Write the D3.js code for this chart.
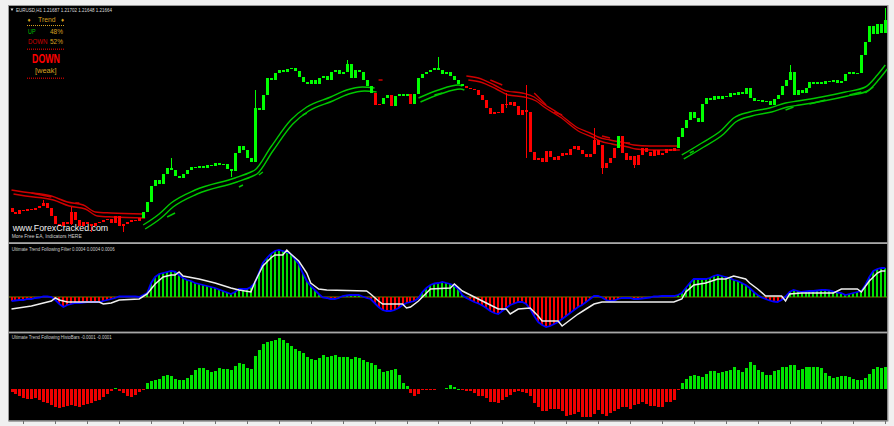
<!DOCTYPE html>
<html><head><meta charset="utf-8">
<script src="https://cdn.jsdelivr.net/npm/d3@7"></script>
<style>
html,body{margin:0;padding:0;background:#f0f0f0;}
svg{display:block;}
text{font-family:"Liberation Sans",Arial,sans-serif;}
</style></head><body>
<svg id="c" width="894" height="426"></svg>
<script>
// ---------------- DATA ----------------
const symbolTitle = "EURUSD,H1  1.21687 1.21702 1.21648 1.21664";
const filterTitle = "Ultimate Trend Following Filter 0.0004 0.0004 0.0006";
const histoTitle = "Ultimate Trend Following HistoBars -0.0001 -0.0001";
const trendPct = [["UP", "48%"], ["DOWN", "52%"]];
const trendState = ["DOWN", "[weak]"];

const open0 = 1.1979;
const closes = [
 1.1975,1.1973,1.1977,1.1976,1.1978,1.1977,1.1979,1.1981,1.1984,1.1979,
 1.1971,1.1963,1.1961,1.1965,1.1963,1.1975,1.1967,1.1961,1.1965,1.1963,
 1.1961,1.1964,1.1965,1.1967,1.1968,1.1964,1.1971,1.1961,1.1963,1.1965,
 1.1967,1.1966,1.1969,1.1975,1.1985,1.2001,1.2007,1.2003,1.2013,1.2019,
 1.2017,1.2011,1.2009,1.2013,1.2017,1.2020,1.2019,1.2021,1.2019,1.2022,
 1.2021,1.2024,1.2022,1.2023,1.2018,1.2016,1.2034,1.2041,1.2037,1.2029,
 1.2025,1.2079,1.2077,1.2092,1.2109,1.2107,1.2114,1.2117,1.2115,1.2118,
 1.2119,1.2116,1.2110,1.2105,1.2103,1.2107,1.2103,1.2109,1.2111,1.2107,
 1.2115,1.2117,1.2113,1.2115,1.2123,1.2109,1.2117,1.2115,1.2107,1.2101,
 1.2094,1.2082,1.2083,1.2089,1.2092,1.2081,1.2091,1.2093,1.2091,1.2093,
 1.2083,1.2093,1.2109,1.2113,1.2115,1.2117,1.2119,1.2117,1.2113,1.2115,
 1.2111,1.2107,1.2103,1.2101,1.2099,1.2098,1.2097,1.2092,1.2087,1.2079,
 1.2073,1.2075,1.2074,1.2083,1.2082,1.2085,1.2081,1.2072,1.2077,1.2075,
 1.2035,1.2027,1.2029,1.2025,1.2036,1.2030,1.2027,1.2031,1.2034,1.2032,
 1.2038,1.2041,1.2037,1.2033,1.2030,1.2033,1.2047,1.2042,1.2019,1.2024,
 1.2029,1.2039,1.2051,1.2034,1.2027,1.2031,1.2022,1.2032,1.2039,1.2035,
 1.2031,1.2037,1.2032,1.2034,1.2038,1.2036,1.2039,1.2050,1.2059,1.2067,
 1.2075,1.2069,1.2065,1.2083,1.2089,1.2087,1.2091,1.2088,1.2091,1.2090,
 1.2094,1.2092,1.2095,1.2093,1.2099,1.2089,1.2086,1.2087,1.2085,1.2086,
 1.2082,1.2088,1.2092,1.2101,1.2107,1.2115,1.2092,1.2097,1.2094,1.2099,
 1.2105,1.2103,1.2105,1.2103,1.2106,1.2105,1.2107,1.2104,1.2106,1.2113,
 1.2115,1.2113,1.2114,1.2132,1.2145,1.2161,1.2153,1.2163,1.2154,1.2167
];
const wickHighs = [[8,1.1987],[15,1.1980],[40,1.2029],[61,1.2097],[84,1.2127],[107,1.2130],
  [124,1.2094],[129,1.2102],[146,1.2059],[195,1.2122],[219,1.2179]];
const wickLows = [[15,1.1962],[20,1.1955],[28,1.1955],[55,1.2010],[124,1.2079],[129,1.2029],
  [148,1.2013],[156,1.2019]];
// candle colour runs: [first bar, trend]
const trendRuns = [[0,"down"],[33,"up"],[91,"down"],[93,"up"],[95,"down"],[96,"up"],
  [100,"down"],[101,"up"],[114,"down"],[152,"up"],[153,"down"],[167,"up"]];

// trend band lines [bar, price]
const redBand1 = [[0,1.1997],[3,1.1995],[10,1.1991],[14,1.1985],[18,1.1982],[21,1.1975],[25,1.1974],[33,1.1973]];
const greenBand1 = [[33,1.1962],[37,1.1973],[40,1.1984],[46,1.1997],[56,1.2009],[60,1.2015],[61,1.2017],
  [65,1.2040],[70,1.2067],[74,1.2080],[80,1.2090],[84,1.2097],[88,1.2100],[91,1.2099]];
const greenBand2 = [[102,1.2089],[107,1.2097],[112,1.2102],[113,1.2101]];
const redBand2 = [[114,1.2111],[117,1.2109],[121,1.2102],[124,1.2096],[128,1.2094],[131,1.2090],[133,1.2084],
  [137,1.2074],[142,1.2059],[145,1.2054],[147,1.2050],[150,1.2047],[154,1.2044],[156,1.2042],[160,1.2041],[167,1.2041]];
const greenBand3 = [[168,1.2032],[173,1.2044],[178,1.2057],[181,1.2069],[185,1.2075],[190,1.2079],[194,1.2084],
  [197,1.2086],[203,1.2090],[209,1.2095],[214,1.2100],[217,1.2112],[219,1.2122]];
// short trend segments [bar0, price0, bar1, price1, trend]
const trendDashes = [
 [5,1.1994,10,1.1990,"down"],[16,1.1984,17,1.1984,"down"],[92,1.2107,93,1.2107,"down"],
 [120,1.2107,123,1.2102,"down"],[131,1.2094,134,1.2082,"down"],[136,1.2075,138,1.2072,"down"],
 [148,1.2051,150,1.2049,"down"],[154,1.2044,155,1.2044,"down"],
 [39,1.1970,41,1.1974,"up"],[57,1.2000,58,1.2002,"up"],[62,1.2012,63,1.2015,"up"],
 [73,1.2072,74,1.2074,"up"],[106,1.2092,108,1.2094,"up"],[170,1.2034,171,1.2036,"up"],
 [194,1.2077,196,1.2080,"up"],[200,1.2083,204,1.2087,"up"],[210,1.2092,213,1.2095,"up"],
 [214,1.2094,216,1.2100,"up"]
];

// Filter window (points)
const filterPts = [
 -8,-7,-6,-6,-4,-4,-2,-1,1,1,
 0,-6,-14,-20,-16,-14,-12,-12,-11,-10,
 -10,-10,-10,-8,-6,-4,-2,1,1,1,
 1,1,0,4,8,28,40,46,48,50,
 52,51,44,38,34,32,28,26,24,22,
 20,18,15,12,9,6,10,16,16,16,
 20,28,48,68,78,86,92,94,92,90,
 86,76,66,48,32,22,14,6,-1,-2,
 -4,-4,-2,2,3,4,4,4,1,-2,
 -4,-12,-20,-26,-28,-28,-26,-22,-16,-12,
 -10,-8,-2,10,18,24,27,28,30,28,
 26,22,16,4,-2,-6,-10,-13,-17,-22,
 -28,-32,-34,-28,-22,-16,-13,-10,-10,-14,
 -24,-38,-50,-56,-60,-58,-54,-50,-44,-38,
 -32,-26,-20,-16,-10,-4,2,2,-1,-6,
 -8,-7,-4,-2,-2,-2,-4,-4,-3,-2,
 -1,1,1,2,2,2,2,4,8,18,
 28,36,36,36,36,38,42,44,42,40,
 38,34,32,28,24,18,10,4,-1,-4,
 -7,-9,-10,-6,1,10,14,12,10,11,
 12,12,13,14,14,13,11,9,8,4,
 6,8,10,12,24,40,52,56,58,58
];
const signalPts = [[0,-24],[5,-18],[8,-12],[10,-8],[11,-2],[12,-6],[14,-10],[22,-10],[23,-14],[25,-12],[27,-6],
 [32,-4],[34,6],[36,26],[38,40],[40,44],[41,44],[42,50],[43,42],[47,36],[51,28],[55,18],[57,14],[60,10],
 [61,30],[63,62],[65,78],[66,84],[68,84],[69,94],[70,86],[72,72],[74,48],[75,28],[77,16],[79,14],[89,12],
 [90,6],[92,-8],[93,-14],[98,-14],[99,-22],[100,-20],[102,-8],[104,8],[105,16],[110,18],[111,26],[113,12],
 [116,0],[119,-12],[122,-24],[124,-24],[125,-34],[127,-24],[130,-22],[132,-38],[133,-48],[137,-48],[138,-58],
 [140,-46],[142,-34],[144,-24],[146,-14],[148,-10],[166,-10],[168,-4],[169,10],[171,24],[174,28],[177,36],
 [179,36],[181,42],[184,36],[185,28],[187,16],[189,2],[193,2],[194,-8],[195,6],[198,8],[206,8],[208,16],
 [212,16],[213,10],[215,32],[217,48],[218,52],[219,52]];

// HistoBars window (points)
const histoPts = [
 -3,-5,-7,-9,-10,-10,-9,-11,-13,-14,
 -16,-18,-19,-18,-17,-16,-17,-18,-16,-15,
 -14,-12,-11,-8,-5,-2,1,-2,-4,-7,
 -8,-6,-3,-1,6,8,9,10,13,14,
 13,10,9,9,11,14,19,21,21,19,
 17,18,21,20,20,19,23,26,25,21,
 20,33,39,45,47,48,49,51,49,46,
 43,40,38,36,32,30,29,31,34,32,
 33,34,32,32,32,30,32,31,29,27,
 26,24,20,17,18,19,20,14,6,3,
 -4,-7,-5,-1,-1,-1,-0.5,0.5,0.5,1.5,
 4,2,0,-1,-2,-2,-4,-7,-7,-9,
 -13,-13,-14,-11,-8,-6,-3,-2,-3,-4,
 -7,-14,-18,-22,-22,-20,-20,-20,-22,-27,
 -26,-25,-23,-28,-28,-28,-25,-21,-25,-27,
 -24,-22,-20,-18,-18,-20,-16,-15,-13,-15,
 -17,-17,-18,-18,-13,-13,-11,-1,6,10,
 13,14,13,12,15,18,18,16,17,18,
 19,22,19,17,21,27,24,19,17,14,
 14,18,19,22,22,24,24,19,20,22,
 22,22,22,21,16,13,11,12,13,13,
 12,10,9,9,11,15,20,22,21,22
];

// ---------------- DRAW ----------------
const N = closes.length;
const svg = d3.select("#c");
const C = {bg:"#f0f0f0", up:"#00ff00", dn:"#ff0000", bandUp:"#00c800", bandDn:"#d00000",
  gold:"#d8a020", grid:"#a8a8a8"};
const X0 = 9, X1 = 887.5;
const x = d3.scaleLinear().domain([0, N - 1]).range([11.5, 885.3]);
const yP = d3.scaleLinear().domain([1.1945, 1.2181]).range([242, 6]);
const y1 = d3.scaleLinear().domain([-68, 104]).range([331, 245]);
const y2 = d3.scaleLinear().domain([-31, 55]).range([420, 334]);

svg.append("rect").attr("width", 894).attr("height", 426).attr("fill", C.bg);
svg.append("rect").attr("x", X0).attr("y", 6).attr("width", X1 - X0).attr("height", 415).attr("fill", "#000");
svg.append("rect").attr("x", X0 - 0.5).attr("y", 5.5).attr("width", X1 - X0 + 1).attr("height", 415.5)
  .attr("fill", "none").attr("stroke", "#9a9a9a").attr("stroke-width", 1);
[[242.2, 244], [331.6, 333.4]].forEach(([a, b]) => {
  svg.append("rect").attr("x", X0).attr("y", a).attr("width", X1 - X0).attr("height", b - a).attr("fill", C.grid);
});
const tickBars = d3.range(3, N, 8);
svg.append("line").attr("x1", X0).attr("x2", X1).attr("y1", 420.8).attr("y2", 420.8)
  .attr("stroke", "#8a8a8a").attr("stroke-width", 1.2);
svg.selectAll(".tk").data(tickBars).join("line").attr("class", "tk")
  .attr("x1", d => Math.round(x(d)) + 0.5).attr("x2", d => Math.round(x(d)) + 0.5)
  .attr("y1", 421).attr("y2", 424).attr("stroke", "#707070").attr("stroke-width", 1);

const defs = svg.append("defs");
defs.append("clipPath").attr("id", "cm").append("rect").attr("x", X0).attr("y", 6).attr("width", X1 - X0).attr("height", 236);
defs.append("clipPath").attr("id", "c1").append("rect").attr("x", X0).attr("y", 244).attr("width", X1 - X0).attr("height", 87.5);
defs.append("clipPath").attr("id", "c2").append("rect").attr("x", X0).attr("y", 333.5).attr("width", X1 - X0).attr("height", 87);

// ---- main window
const gm = svg.append("g").attr("clip-path", "url(#cm)");
function trendAt(i) { let t = trendRuns[0][1]; for (const r of trendRuns) if (i >= r[0]) t = r[1]; return t; }
const hiMap = new Map(wickHighs), loMap = new Map(wickLows);
const candles = closes.map((c, i) => {
  const o = i === 0 ? open0 : closes[i - 1];
  const top = Math.max(o, c), bot = Math.min(o, c);
  return {i, o, c, hi: hiMap.has(i) ? hiMap.get(i) : top, lo: loMap.has(i) ? loMap.get(i) : bot, t: trendAt(i)};
});

const bandLine = d3.line().x(d => x(d[0])).y(d => yP(d[1])).curve(d3.curveMonotoneX);
function band(pts, col) {
  gm.append("path").attr("d", bandLine(pts)).attr("fill", "none").attr("stroke", col).attr("stroke-width", 1.4);
  gm.append("path").attr("d", bandLine(pts)).attr("transform", "translate(2,4)")
    .attr("fill", "none").attr("stroke", col).attr("stroke-width", 1.4);
}
band(redBand1, C.bandDn); band(redBand2, C.bandDn);
band(greenBand1, C.bandUp); band(greenBand2, C.bandUp); band(greenBand3, C.bandUp);
gm.selectAll(".dash").data(trendDashes).join("line").attr("class", "dash")
  .attr("x1", d => x(d[0])).attr("y1", d => yP(d[1])).attr("x2", d => x(d[2])).attr("y2", d => yP(d[3]))
  .attr("stroke", d => d[4] === "up" ? C.bandUp : C.bandDn).attr("stroke-width", 1.4);

const gc = gm.append("g").attr("shape-rendering", "crispEdges");
gc.selectAll(".wk").data(candles).join("line").attr("class", "wk")
  .attr("x1", d => Math.round(x(d.i)) + 0.5).attr("x2", d => Math.round(x(d.i)) + 0.5)
  .attr("y1", d => yP(d.hi)).attr("y2", d => yP(d.lo))
  .attr("stroke", d => d.t === "up" ? C.up : C.dn).attr("stroke-width", 1);
gc.selectAll(".bd").data(candles).join("rect").attr("class", "bd")
  .attr("x", d => Math.round(x(d.i)) - 1).attr("width", 3)
  .attr("y", d => yP(Math.max(d.o, d.c)))
  .attr("height", d => Math.max(1, Math.abs(yP(d.o) - yP(d.c))))
  .attr("fill", d => d.t === "up" ? C.up : C.dn);

// texts main
svg.append("path").attr("d", "M10.5,8.5 L13.5,8.5 L12,11 Z").attr("fill", "#e0e0e0");
svg.append("text").attr("x", 16).attr("y", 11.6).attr("font-size", 5.2).attr("fill", "#d8d8d8")
  .attr("textLength", 96).attr("lengthAdjust", "spacingAndGlyphs").text(symbolTitle);

const tp = svg.append("g");
tp.append("text").attr("x", 29).attr("y", 22).attr("font-size", 6).attr("fill", C.gold).attr("text-anchor", "middle").text("♦");
tp.append("text").attr("x", 62.5).attr("y", 22).attr("font-size", 6).attr("fill", C.gold).attr("text-anchor", "middle").text("♦");
tp.append("text").attr("x", 38).attr("y", 22.3).attr("font-size", 6.5).attr("fill", C.gold)
  .attr("textLength", 17.5).attr("lengthAdjust", "spacingAndGlyphs").text("Trend");
tp.append("line").attr("x1", 27).attr("x2", 64).attr("y1", 25.5).attr("y2", 25.5)
  .attr("stroke", C.gold).attr("stroke-dasharray", "1,1").attr("stroke-width", 1);
trendPct.forEach((d, k) => {
  const yy = 34.3 + k * 9.7;
  tp.append("text").attr("x", 28).attr("y", yy).attr("font-size", 6.6)
    .attr("fill", k === 0 ? "#00c000" : "#d00000")
    .attr("textLength", k === 0 ? 7.5 : 19.5).attr("lengthAdjust", "spacingAndGlyphs").text(d[0]);
  tp.append("text").attr("x", 63).attr("y", yy).attr("font-size", 6.6).attr("fill", C.gold)
    .attr("text-anchor", "end").attr("textLength", 13).attr("lengthAdjust", "spacingAndGlyphs").text(d[1]);
});
[49.2, 78.3].forEach(yy => tp.append("line").attr("x1", 27).attr("x2", 64).attr("y1", yy).attr("y2", yy)
  .attr("stroke", "#b00000").attr("stroke-dasharray", "1,1").attr("stroke-width", 1.6));
tp.append("text").attr("x", 32).attr("y", 63.3).attr("font-size", 13).attr("font-weight", "bold")
  .attr("font-family", "'Liberation Sans Narrow','DejaVu Sans Condensed',sans-serif")
  .attr("fill", "#ff0000").attr("textLength", 28).attr("lengthAdjust", "spacingAndGlyphs").text(trendState[0]);
tp.append("text").attr("x", 35).attr("y", 72.6).attr("font-size", 6.6).attr("fill", C.gold)
  .attr("textLength", 21.5).attr("lengthAdjust", "spacingAndGlyphs").text(trendState[1]);

svg.append("text").attr("x", 12.7).attr("y", 230.6).attr("font-size", 9.8).attr("fill", "#f2f2f2")
  .attr("textLength", 95.5).attr("lengthAdjust", "spacingAndGlyphs").text("www.ForexCracked.com");
svg.append("text").attr("x", 11.7).attr("y", 237.6).attr("font-size", 5).attr("fill", "#cfcfcf")
  .attr("textLength", 70).attr("lengthAdjust", "spacingAndGlyphs").text("More Free EA, Indicators HERE");

// ---- sub window 1 (filter)
const g1 = svg.append("g").attr("clip-path", "url(#c1)");
g1.append("line").attr("x1", X0).attr("x2", X1).attr("y1", y1(0)).attr("y2", y1(0))
  .attr("stroke", "#7a7a00").attr("stroke-width", 1);
g1.append("g").attr("shape-rendering", "crispEdges").selectAll("rect").data(filterPts).join("rect")
  .attr("x", (d, i) => Math.round(x(i)) - 1).attr("width", 2)
  .attr("y", d => Math.min(y1(0), y1(d))).attr("height", d => Math.abs(y1(d) - y1(0)))
  .attr("fill", d => d >= 0 ? "#00e000" : "#ff0000");
g1.append("path").attr("d", d3.line().x((d, i) => x(i)).y(d => y1(d))(filterPts))
  .attr("fill", "none").attr("stroke", "#0000ff").attr("stroke-width", 1.8);
g1.append("path").attr("d", d3.line().x(d => x(d[0])).y(d => y1(d[1]))(signalPts))
  .attr("fill", "none").attr("stroke", "#eeeeee").attr("stroke-width", 1.5);
svg.append("text").attr("x", 11.7).attr("y", 251).attr("font-size", 5).attr("fill", "#cfcfcf")
  .attr("textLength", 103).attr("lengthAdjust", "spacingAndGlyphs").text(filterTitle);

// ---- sub window 2 (histobars)
const g2 = svg.append("g").attr("clip-path", "url(#c2)");
g2.append("g").attr("shape-rendering", "crispEdges").selectAll("rect").data(histoPts).join("rect")
  .attr("x", (d, i) => Math.round(x(i)) - 1).attr("width", 2.6)
  .attr("y", d => Math.min(y2(0), y2(d))).attr("height", d => Math.max(0.6, Math.abs(y2(d) - y2(0))))
  .attr("fill", d => d >= 0 ? "#00e400" : "#f00000");
svg.append("text").attr("x", 11.7).attr("y", 339).attr("font-size", 5).attr("fill", "#cfcfcf")
  .attr("textLength", 100).attr("lengthAdjust", "spacingAndGlyphs").text(histoTitle);
</script></body></html>
